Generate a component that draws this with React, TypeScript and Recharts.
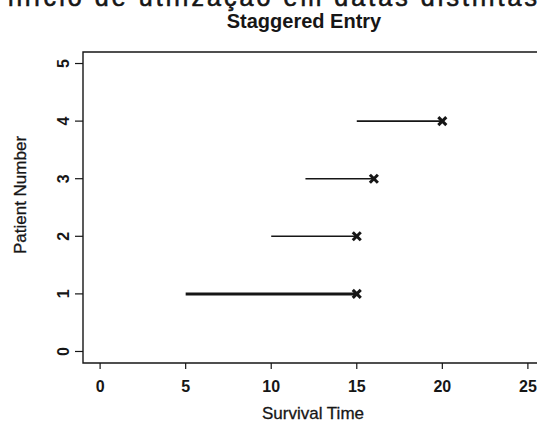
import React from 'react';
import {
    ScatterChart,
    Scatter,
    XAxis,
    YAxis,
    ReferenceArea,
} from 'recharts';

const patients = [1, 2, 3, 4];
const entryTimes = [5, 10, 12, 15];
const exitTimes = [15, 15, 16, 20];
const xTicks = [0, 5, 10, 15, 20, 25];
const yTicks = [0, 1, 2, 3, 4, 5];

const FONT = '"Liberation Sans", Arial, Helvetica, sans-serif';
const INK = '#161616';

// one two-point series per patient: entry -> exit
const series = patients.map((p, i) => [
    { x: entryTimes[i], y: p, end: false },
    { x: exitTimes[i], y: p, end: true },
]);

const CrossMark = (props: any) => {
    const { cx, cy, payload } = props;
    if (!payload || !payload.end) return <g />;
    const s = 4;
    return (
        <g stroke={INK} strokeWidth={3}>
            <line x1={cx - s} y1={cy - s} x2={cx + s} y2={cy + s} />
            <line x1={cx - s} y1={cy + s} x2={cx + s} y2={cy - s} />
        </g>
    );
};

const XTick = (props: any) => {
    const { x, y, payload } = props;
    return (
        <text x={x} y={y + 21} textAnchor="middle" fontFamily={FONT} fontSize={16} fontWeight="bold" fill={INK}>
            {payload.value}
        </text>
    );
};

const YTick = (props: any) => {
    const { x, y, payload } = props;
    const tx = x - 4;
    return (
        <text
            x={tx}
            y={y}
            transform={`rotate(-90, ${tx}, ${y})`}
            textAnchor="middle"
            fontFamily={FONT}
            fontSize={16}
            fontWeight="bold"
            fill={INK}
        >
            {payload.value}
        </text>
    );
};

const App = () => {
    return (
        <div
            style={{
                position: 'fixed',
                left: 0,
                top: 0,
                width: 537,
                height: 425,
                overflow: 'hidden',
                background: '#fff',
            }}
        >
            <ScatterChart
                width={560}
                height={425}
                margin={{ top: 52, right: 15, left: 23, bottom: 32 }}
            >
                {/* caption from the page above, cut by the crop */}
                <text
                    x={8}
                    y={6}
                    fontFamily={FONT}
                    fontSize={25}
                    fill={INK}
                    stroke={INK}
                    strokeWidth={0.6}
                    textLength={529}
                >
                    início de utilização em datas distintas
                </text>
                <text x={304} y={28} textAnchor="middle" fontFamily={FONT} fontSize={20} fontWeight="bold" fill={INK}>
                    Staggered Entry
                </text>
                <text
                    x={26}
                    y={195}
                    transform="rotate(-90, 26, 195)"
                    textAnchor="middle"
                    fontFamily={FONT}
                    fontSize={17}
                    fill={INK}
                    stroke={INK}
                    strokeWidth={0.3}
                >
                    Patient Number
                </text>
                <text
                    x={313}
                    y={419}
                    textAnchor="middle"
                    fontFamily={FONT}
                    fontSize={17}
                    fill={INK}
                    stroke={INK}
                    strokeWidth={0.3}
                >
                    Survival Time
                </text>
                <XAxis
                    type="number"
                    dataKey="x"
                    domain={[-1, 26]}
                    ticks={xTicks}
                    allowDataOverflow
                    axisLine={false}
                    tickSize={6}
                    tickLine={{ stroke: INK, strokeWidth: 1.2 }}
                    tick={<XTick />}
                    height={30}
                />
                <YAxis
                    type="number"
                    dataKey="y"
                    domain={[-0.2, 5.2]}
                    ticks={yTicks}
                    allowDataOverflow
                    axisLine={false}
                    tickSize={8}
                    tickLine={{ stroke: INK, strokeWidth: 1.2 }}
                    tick={<YTick />}
                    width={60}
                />
                <ReferenceArea
                    x1={-1}
                    x2={26}
                    y1={-0.2}
                    y2={5.2}
                    fill="none"
                    fillOpacity={0}
                    stroke={INK}
                    strokeWidth={1.4}
                    ifOverflow="visible"
                />
                {series.map((data, i) => (
                    <Scatter
                        key={patients[i]}
                        data={data}
                        line={{ stroke: INK, strokeWidth: i === 0 ? 3 : 1.6 }}
                        shape={<CrossMark />}
                        isAnimationActive={false}
                    />
                ))}
            </ScatterChart>
        </div>
    );
};

export default App;
